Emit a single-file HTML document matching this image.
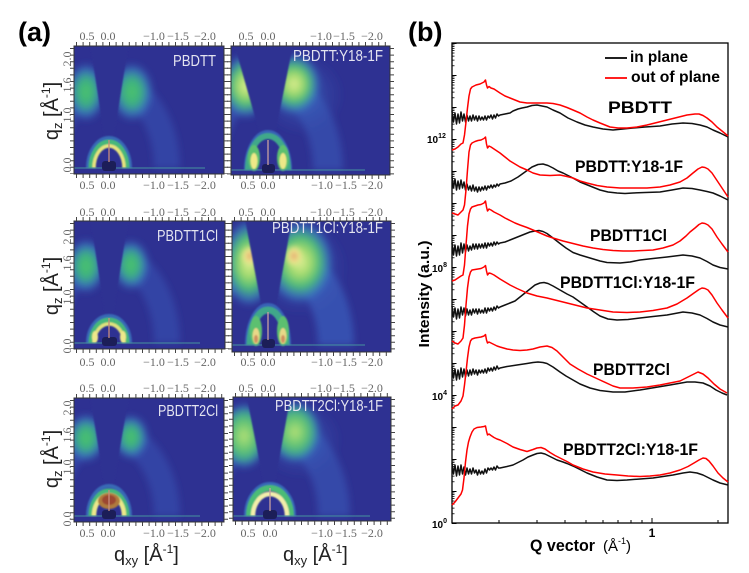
<!DOCTYPE html>
<html><head><meta charset="utf-8"><style>
html,body{margin:0;padding:0;background:#fff;}
svg{display:block;}
</style></head><body>
<svg width="749" height="573" viewBox="0 0 749 573" xmlns="http://www.w3.org/2000/svg">
<defs>
<filter id="f4" x="-50%" y="-50%" width="200%" height="200%"><feGaussianBlur stdDeviation="3.5"/></filter>
<filter id="f2" x="-50%" y="-50%" width="200%" height="200%"><feGaussianBlur stdDeviation="2"/></filter>
<filter id="f1" x="-50%" y="-50%" width="200%" height="200%"><feGaussianBlur stdDeviation="0.9"/></filter>
<radialGradient id="gG"><stop offset="0" stop-color="#4cc46a"/><stop offset=".45" stop-color="#3cae84"/><stop offset=".75" stop-color="#3a80c2" stop-opacity=".75"/><stop offset="1" stop-color="#3a5cbc" stop-opacity="0"/></radialGradient>
<radialGradient id="gY"><stop offset="0" stop-color="#e0ee96"/><stop offset=".3" stop-color="#a6dc6e"/><stop offset=".6" stop-color="#48b87a"/><stop offset=".85" stop-color="#3a7cc2" stop-opacity=".7"/><stop offset="1" stop-color="#3a5cbc" stop-opacity="0"/></radialGradient>
<radialGradient id="gY2"><stop offset="0" stop-color="#b8e276"/><stop offset=".4" stop-color="#6cc872"/><stop offset=".7" stop-color="#3ea88c"/><stop offset=".9" stop-color="#3a78c4" stop-opacity=".6"/><stop offset="1" stop-color="#3a5cbc" stop-opacity="0"/></radialGradient>
<radialGradient id="gO"><stop offset="0" stop-color="#dea46c"/><stop offset=".5" stop-color="#f0e28c"/><stop offset="1" stop-color="#d8ec8c" stop-opacity="0"/></radialGradient>
<radialGradient id="gB"><stop offset="0" stop-color="#3c78c8" stop-opacity=".6"/><stop offset="1" stop-color="#3a5cbc" stop-opacity="0"/></radialGradient>
<clipPath id="cA"><rect x="74" y="46" width="150" height="128"/></clipPath>
<clipPath id="cB"><rect x="231" y="46" width="159" height="129"/></clipPath>
<clipPath id="cC"><rect x="74" y="221" width="151" height="128"/></clipPath>
<clipPath id="cD"><rect x="232" y="221" width="159" height="131"/></clipPath>
<clipPath id="cE"><rect x="74" y="398" width="150" height="124"/></clipPath>
<clipPath id="cF"><rect x="233" y="397" width="158" height="124"/></clipPath>
<pattern id="yt" x="452" y="43" width="6" height="32" patternUnits="userSpaceOnUse">
<rect x="0" y="0" width="4.5" height="1" fill="#000"/>
<rect x="0" y="1.5" width="2.5" height=".8" fill="#000"/>
<rect x="0" y="3.1" width="2.5" height=".8" fill="#000"/>
<rect x="0" y="4.95" width="2.5" height=".8" fill="#000"/>
<rect x="0" y="7.1" width="2.5" height=".8" fill="#000"/>
<rect x="0" y="9.63" width="2.5" height=".8" fill="#000"/>
<rect x="0" y="12.73" width="2.5" height=".8" fill="#000"/>
<rect x="0" y="16.73" width="2.5" height=".8" fill="#000"/>
<rect x="0" y="22.37" width="2.5" height=".8" fill="#000"/>
</pattern>
</defs>
<rect width="749" height="573" fill="#fff"/>

<!-- ================= PANEL (a) ================= -->
<text x="18" y="41" font-family="Liberation Sans, sans-serif" font-weight="bold" font-size="27" fill="#000">(a)</text>

<!-- Image A: PBDTT -->
<g clip-path="url(#cA)">
<rect x="74" y="46" width="150" height="128" fill="#2e3192"/>
<g filter="url(#f4)">
<path d="M51 168 A58 84 0 0 1 167 168" fill="none" stroke="#3a58b8" stroke-width="26" opacity=".5"/>
<ellipse cx="86" cy="92" rx="20" ry="30" fill="url(#gG)"/>
<ellipse cx="132" cy="92" rx="22" ry="30" fill="url(#gG)"/>
</g>
<polygon points="107,154 88,30 131,30 111,154" fill="#2e3192" filter="url(#f1)"/>
<g filter="url(#f1)">
<path d="M88 168 A21 30 0 0 1 130 168" fill="none" stroke="#3a80c4" stroke-width="4" opacity=".7"/>
<path d="M91 168 A18 26 0 0 1 127 168" fill="none" stroke="#46b87a" stroke-width="5"/>
<path d="M94 168 A15 22 0 0 1 124 168" fill="none" stroke="#e6e47e" stroke-width="3.5"/>
</g>
<line x1="74" y1="168" x2="205" y2="168" stroke="#4aa0a0" stroke-width="1.2" opacity=".7"/>
<rect x="102" y="161" width="14" height="10" rx="3" fill="#1c1e58"/>
<line x1="109" y1="140" x2="109" y2="162" stroke="#c88c7c" stroke-width="1.3"/>
</g>
<rect x="74" y="46" width="150" height="128" fill="none" stroke="#333" stroke-width="1"/>

<!-- Image B: PBDTT:Y18-1F -->
<g clip-path="url(#cB)">
<rect x="231" y="46" width="159" height="129" fill="#2e3192"/>
<g filter="url(#f4)">
<path d="M208 170 A60 88 0 0 1 328 170" fill="none" stroke="#3a5cbc" stroke-width="30" opacity=".55"/>
<ellipse cx="302" cy="95" rx="42" ry="40" fill="url(#gB)"/>
<ellipse cx="246" cy="86" rx="25" ry="33" fill="url(#gY)"/>
<ellipse cx="294" cy="84" rx="27" ry="31" fill="url(#gY)"/>
</g>
<polygon points="266.5,157 233,40 294,40 270.5,157" fill="#2e3192" filter="url(#f1)"/>
<g filter="url(#f1)">
<path d="M246 170 A22 38 0 0 1 290 170" fill="none" stroke="#3a78c4" stroke-width="4" opacity=".7"/>
<path d="M248 170 A20 34 0 0 1 288 170" fill="none" stroke="#3fa88a" stroke-width="6"/>
<ellipse cx="254" cy="158" rx="6" ry="13" fill="#5cc070"/>
<ellipse cx="283" cy="158" rx="6" ry="13" fill="#5cc070"/>
<ellipse cx="254" cy="161" rx="3.5" ry="8" fill="#eee888"/>
<ellipse cx="283" cy="161" rx="3.5" ry="8" fill="#eee888"/>
</g>
<line x1="231" y1="170" x2="365" y2="170" stroke="#4aa0a0" stroke-width="1.2" opacity=".7"/>
<rect x="262" y="164" width="13" height="9" rx="3" fill="#1c1e58"/>
<line x1="268" y1="140" x2="268" y2="165" stroke="#c8a0a0" stroke-width="1.3"/>
</g>
<rect x="231" y="46" width="159" height="129" fill="none" stroke="#333" stroke-width="1"/>

<!-- Image C: PBDTT1Cl -->
<g clip-path="url(#cC)">
<rect x="74" y="221" width="151" height="128" fill="#2e3192"/>
<g filter="url(#f4)">
<path d="M51 343 A58 86 0 0 1 167 343" fill="none" stroke="#3a58b8" stroke-width="26" opacity=".5"/>
<ellipse cx="86" cy="266" rx="20" ry="28" fill="url(#gG)"/>
<ellipse cx="131" cy="265" rx="19" ry="26" fill="url(#gG)"/>
</g>
<polygon points="107,327 89,210 130,210 111,327" fill="#2e3192" filter="url(#f1)"/>
<g filter="url(#f1)">
<path d="M88 343 A21 27 0 0 1 130 343" fill="none" stroke="#3a80c4" stroke-width="4" opacity=".7"/>
<path d="M91 343 A18 23 0 0 1 127 343" fill="none" stroke="#46b87a" stroke-width="5"/>
<path d="M94 343 A15 19 0 0 1 124 343" fill="none" stroke="#e0e27c" stroke-width="3.5"/>
<ellipse cx="95" cy="337" rx="3" ry="6" fill="#eee88a"/>
<ellipse cx="123" cy="337" rx="3" ry="6" fill="#eee88a"/>
</g>
<line x1="74" y1="343" x2="200" y2="343" stroke="#4aa0a0" stroke-width="1.2" opacity=".7"/>
<rect x="102" y="337" width="15" height="9" rx="3" fill="#1c1e58"/>
<line x1="109" y1="318" x2="109" y2="338" stroke="#c88c7c" stroke-width="1.3"/>
</g>
<rect x="74" y="221" width="151" height="128" fill="none" stroke="#333" stroke-width="1"/>

<!-- Image D: PBDTT1Cl:Y18-1F -->
<g clip-path="url(#cD)">
<rect x="232" y="221" width="159" height="131" fill="#2e3192"/>
<g filter="url(#f4)">
<path d="M200 345 A68 92 0 0 1 336 345" fill="none" stroke="#3c62c0" stroke-width="36" opacity=".65"/>
<ellipse cx="300" cy="268" rx="48" ry="48" fill="url(#gB)"/>
<ellipse cx="249" cy="263" rx="27" ry="44" fill="url(#gY)"/>
<ellipse cx="300" cy="262" rx="34" ry="42" fill="url(#gY)"/>
</g>
<g filter="url(#f2)">
<ellipse cx="250" cy="256" rx="10" ry="11" fill="url(#gO)"/>
<ellipse cx="294" cy="256" rx="10" ry="12" fill="url(#gO)"/>
</g>
<polygon points="267.5,338 244,214 293,214 270.5,338" fill="#2e3192" filter="url(#f1)"/>
<g filter="url(#f1)">
<path d="M247 345 A21 40 0 0 1 289 345" fill="none" stroke="#3a78c4" stroke-width="4" opacity=".7"/>
<path d="M250 345 A18 35 0 0 1 286 345" fill="none" stroke="#3fa88a" stroke-width="7"/>
<ellipse cx="256" cy="331" rx="6" ry="15" fill="#5cc070"/>
<ellipse cx="283" cy="331" rx="6" ry="15" fill="#5cc070"/>
<ellipse cx="256" cy="336" rx="3.5" ry="8" fill="#e8d888"/>
<ellipse cx="283" cy="336" rx="3.5" ry="8" fill="#e8d888"/>
<ellipse cx="256" cy="339" rx="2" ry="4" fill="#d09060"/>
<ellipse cx="283" cy="339" rx="2" ry="4" fill="#d09060"/>
</g>
<line x1="232" y1="345" x2="365" y2="345" stroke="#4aa0a0" stroke-width="1.2" opacity=".7"/>
<rect x="262" y="339" width="13" height="9" rx="3" fill="#1c1e58"/>
<line x1="268" y1="312" x2="268" y2="340" stroke="#c8a0a0" stroke-width="1.3"/>
</g>
<rect x="232" y="221" width="159" height="131" fill="none" stroke="#333" stroke-width="1"/>

<!-- Image E: PBDTT2Cl -->
<g clip-path="url(#cE)">
<rect x="74" y="398" width="150" height="124" fill="#2e3192"/>
<g filter="url(#f4)">
<path d="M51 516 A58 82 0 0 1 167 516" fill="none" stroke="#3a58b8" stroke-width="26" opacity=".5"/>
<ellipse cx="86" cy="438" rx="20" ry="25" fill="url(#gG)"/>
<ellipse cx="131" cy="437" rx="18" ry="23" fill="url(#gG)"/>
</g>
<polygon points="107,500 89,390 130,390 111,500" fill="#2e3192" filter="url(#f1)"/>
<g filter="url(#f1)">
<path d="M88 516 A21 30 0 0 1 130 516" fill="none" stroke="#3a80c4" stroke-width="4" opacity=".7"/>
<path d="M91 516 A18 25 0 0 1 127 516" fill="none" stroke="#46b87a" stroke-width="5"/>
<path d="M94 516 A15 21 0 0 1 124 516" fill="none" stroke="#ece88a" stroke-width="4.5"/>
<ellipse cx="109" cy="501" rx="11" ry="8" fill="#b07a3c"/>
<ellipse cx="109" cy="500" rx="7" ry="5" fill="#9c4632"/>
</g>
<line x1="74" y1="516" x2="200" y2="516" stroke="#4aa0a0" stroke-width="1.2" opacity=".7"/>
<rect x="102" y="510" width="14" height="9" rx="3" fill="#1c1e58"/>
<line x1="109" y1="490" x2="109" y2="511" stroke="#c88c7c" stroke-width="1.3"/>
</g>
<rect x="74" y="398" width="150" height="124" fill="none" stroke="#333" stroke-width="1"/>

<!-- Image F: PBDTT2Cl:Y18-1F -->
<g clip-path="url(#cF)">
<rect x="233" y="397" width="158" height="124" fill="#2e3192"/>
<g filter="url(#f4)">
<path d="M206 516 A64 90 0 0 1 334 516" fill="none" stroke="#3a5cbc" stroke-width="32" opacity=".55"/>
<ellipse cx="300" cy="440" rx="42" ry="38" fill="url(#gB)"/>
<ellipse cx="244" cy="436" rx="24" ry="33" fill="url(#gY2)"/>
<ellipse cx="295" cy="432" rx="26" ry="31" fill="url(#gY2)"/>
</g>
<polygon points="267.5,502 245,388 292,388 271.5,502" fill="#2e3192" filter="url(#f1)"/>
<g filter="url(#f1)">
<path d="M246 516 A24 32 0 0 1 294 516" fill="none" stroke="#3a80c6" stroke-width="4" opacity=".7"/>
<path d="M249 516 A21 28 0 0 1 291 516" fill="none" stroke="#4cbc76" stroke-width="6"/>
<path d="M253 516 A17 22 0 0 1 287 516" fill="none" stroke="#f2eeaa" stroke-width="4.5"/>
</g>
<line x1="233" y1="516" x2="370" y2="516" stroke="#4aa0a0" stroke-width="1.2" opacity=".7"/>
<rect x="263" y="510" width="14" height="9" rx="3" fill="#1c1e58"/>
<line x1="270" y1="488" x2="270" y2="511" stroke="#c8a0a0" stroke-width="1.3"/>
</g>
<rect x="233" y="397" width="158" height="124" fill="none" stroke="#333" stroke-width="1"/>

<!-- image frame ticks -->
<g stroke="#444" stroke-width="4" stroke-dasharray="1 5.6" fill="none">
<line x1="76" y1="176" x2="224" y2="176"/><line x1="76" y1="44" x2="224" y2="44"/>
<line x1="72" y1="48" x2="72" y2="174"/><line x1="226" y1="48" x2="226" y2="174"/>
<line x1="233" y1="177" x2="390" y2="177"/><line x1="233" y1="44" x2="390" y2="44"/>
<line x1="229" y1="48" x2="229" y2="175"/><line x1="392" y1="48" x2="392" y2="175"/>
<line x1="76" y1="351" x2="225" y2="351"/><line x1="76" y1="219" x2="225" y2="219"/>
<line x1="72" y1="223" x2="72" y2="349"/><line x1="227" y1="223" x2="227" y2="349"/>
<line x1="234" y1="354" x2="391" y2="354"/><line x1="234" y1="219" x2="391" y2="219"/>
<line x1="230" y1="223" x2="230" y2="352"/><line x1="393" y1="223" x2="393" y2="352"/>
<line x1="76" y1="524" x2="224" y2="524"/><line x1="76" y1="396" x2="224" y2="396"/>
<line x1="72" y1="400" x2="72" y2="522"/><line x1="226" y1="400" x2="226" y2="522"/>
<line x1="235" y1="523" x2="391" y2="523"/><line x1="235" y1="395" x2="391" y2="395"/>
<line x1="231" y1="399" x2="231" y2="521"/><line x1="393" y1="399" x2="393" y2="521"/>
</g>

<!-- image titles -->
<g font-family="Liberation Sans, sans-serif" font-size="16" fill="#e4e4f0">
<text x="173" y="66" textLength="43" lengthAdjust="spacingAndGlyphs">PBDTT</text>
<text x="293" y="61" textLength="90" lengthAdjust="spacingAndGlyphs">PBDTT:Y18-1F</text>
<text x="157" y="241" textLength="61" lengthAdjust="spacingAndGlyphs">PBDTT1Cl</text>
<text x="272" y="233" textLength="111" lengthAdjust="spacingAndGlyphs">PBDTT1Cl:Y18-1F</text>
<text x="158" y="416" textLength="60" lengthAdjust="spacingAndGlyphs">PBDTT2Cl</text>
<text x="275" y="411" textLength="108" lengthAdjust="spacingAndGlyphs">PBDTT2Cl:Y18-1F</text>
</g>

<!-- qxy tick labels -->
<g font-family="Liberation Serif, serif" font-size="12" fill="#666" text-anchor="middle">
<g>
<text x="87" y="40">0.5</text><text x="108" y="40">0.0</text><text x="154" y="40">−1.0</text><text x="178" y="40">−1.5</text><text x="205" y="40">−2.0</text>
<text x="246" y="40">0.5</text><text x="268" y="40">0.0</text><text x="321" y="40">−1.0</text><text x="344" y="40">−1.5</text><text x="372" y="40">−2.0</text>
<text x="87" y="189">0.5</text><text x="108" y="189">0.0</text><text x="154" y="189">−1.0</text><text x="178" y="189">−1.5</text><text x="205" y="189">−2.0</text>
<text x="248" y="189">0.5</text><text x="268" y="189">0.0</text><text x="322" y="189">−1.0</text><text x="346" y="189">−1.5</text><text x="372" y="189">−2.0</text>
</g>
<g>
<text x="87" y="216">0.5</text><text x="108" y="216">0.0</text><text x="154" y="216">−1.0</text><text x="178" y="216">−1.5</text><text x="205" y="216">−2.0</text>
<text x="246" y="216">0.5</text><text x="268" y="216">0.0</text><text x="321" y="216">−1.0</text><text x="344" y="216">−1.5</text><text x="372" y="216">−2.0</text>
<text x="87" y="366">0.5</text><text x="108" y="366">0.0</text><text x="154" y="366">−1.0</text><text x="178" y="366">−1.5</text><text x="205" y="366">−2.0</text>
<text x="248" y="366">0.5</text><text x="268" y="366">0.0</text><text x="322" y="366">−1.0</text><text x="346" y="366">−1.5</text><text x="372" y="366">−2.0</text>
</g>
<g>
<text x="87" y="392">0.5</text><text x="108" y="392">0.0</text><text x="154" y="392">−1.0</text><text x="178" y="392">−1.5</text><text x="205" y="392">−2.0</text>
<text x="246" y="392">0.5</text><text x="268" y="392">0.0</text><text x="321" y="392">−1.0</text><text x="344" y="392">−1.5</text><text x="372" y="392">−2.0</text>
<text x="87" y="537">0.5</text><text x="108" y="537">0.0</text><text x="154" y="537">−1.0</text><text x="178" y="537">−1.5</text><text x="205" y="537">−2.0</text>
<text x="248" y="537">0.5</text><text x="270" y="537">0.0</text><text x="322" y="537">−1.0</text><text x="346" y="537">−1.5</text><text x="372" y="537">−2.0</text>
</g>
</g>

<!-- qz tick labels (rotated) -->
<g font-family="Liberation Serif, serif" font-size="12" fill="#666" text-anchor="middle">
<text transform="translate(71,59) rotate(-90)">2.0</text>
<text transform="translate(71,85) rotate(-90)">1.6</text>
<text transform="translate(71,115) rotate(-90)">1.0</text>
<text transform="translate(71,165) rotate(-90)">0.0</text>
<text transform="translate(71,237) rotate(-90)">2.0</text>
<text transform="translate(71,263) rotate(-90)">1.6</text>
<text transform="translate(71,297) rotate(-90)">1.0</text>
<text transform="translate(71,346) rotate(-90)">0.0</text>
<text transform="translate(71,408) rotate(-90)">2.0</text>
<text transform="translate(71,435) rotate(-90)">1.6</text>
<text transform="translate(71,467) rotate(-90)">1.0</text>
<text transform="translate(71,519) rotate(-90)">0.0</text>
</g>

<!-- qz axis labels -->
<g font-family="Liberation Sans, sans-serif" font-size="20" fill="#222" text-anchor="middle">
<text transform="translate(58,111) rotate(-90)">q<tspan font-size="13" dy="4">z</tspan><tspan dy="-4"> [Å</tspan><tspan font-size="12" dy="-8">-1</tspan><tspan dy="8">]</tspan></text>
<text transform="translate(58,286) rotate(-90)">q<tspan font-size="13" dy="4">z</tspan><tspan dy="-4"> [Å</tspan><tspan font-size="12" dy="-8">-1</tspan><tspan dy="8">]</tspan></text>
<text transform="translate(58,459) rotate(-90)">q<tspan font-size="13" dy="4">z</tspan><tspan dy="-4"> [Å</tspan><tspan font-size="12" dy="-8">-1</tspan><tspan dy="8">]</tspan></text>
</g>
<!-- qxy axis labels -->
<g font-family="Liberation Sans, sans-serif" font-size="20" fill="#222">
<text x="114" y="561">q<tspan font-size="13" dy="4">xy</tspan><tspan dy="-4"> [Å</tspan><tspan font-size="12" dy="-8">-1</tspan><tspan dy="8">]</tspan></text>
<text x="283" y="561">q<tspan font-size="13" dy="4">xy</tspan><tspan dy="-4"> [Å</tspan><tspan font-size="12" dy="-8">-1</tspan><tspan dy="8">]</tspan></text>
</g>

<!-- ================= PANEL (b) ================= -->
<text x="408" y="41" font-family="Liberation Sans, sans-serif" font-weight="bold" font-size="27" fill="#000">(b)</text>

<rect x="452" y="43" width="276" height="480" fill="none" stroke="#000" stroke-width="1.3"/>
<rect x="452" y="43" width="6" height="481" fill="url(#yt)"/>
<g stroke="#000" stroke-width="1">
<line x1="499" y1="523" x2="499" y2="520"/>
<line x1="537" y1="523" x2="537" y2="520"/>
<line x1="565" y1="523" x2="565" y2="520"/>
<line x1="586" y1="523" x2="586" y2="520"/>
<line x1="603" y1="523" x2="603" y2="520"/>
<line x1="618" y1="523" x2="618" y2="520"/>
<line x1="631" y1="523" x2="631" y2="520"/>
<line x1="642" y1="523" x2="642" y2="520"/>
<line x1="652" y1="523" x2="652" y2="518"/>
<line x1="718" y1="523" x2="718" y2="520"/>
</g>

<g font-family="Liberation Sans, sans-serif" font-weight="bold" fill="#000">
<text x="427" y="143" font-size="10">10<tspan font-size="7" dy="-5">12</tspan></text>
<text x="432" y="272" font-size="10">10<tspan font-size="7" dy="-5">8</tspan></text>
<text x="432" y="400" font-size="10">10<tspan font-size="7" dy="-5">4</tspan></text>
<text x="432" y="528" font-size="10">10<tspan font-size="7" dy="-5">0</tspan></text>
<text x="652" y="537" font-size="12" text-anchor="middle">1</text>
<text transform="translate(429,294) rotate(-90)" font-size="15" text-anchor="middle" textLength="107" lengthAdjust="spacingAndGlyphs">Intensity (a.u.)</text>
<text x="530" y="551" font-size="17" textLength="65" lengthAdjust="spacingAndGlyphs">Q vector</text>
<text x="603" y="551" font-size="15" font-weight="normal">(Å<tspan font-size="9" dy="-7">-1</tspan><tspan dy="7">)</tspan></text>
</g>

<!-- legend -->
<line x1="605" y1="58" x2="627" y2="58" stroke="#000" stroke-width="1.8"/>
<line x1="605" y1="78" x2="627" y2="78" stroke="#f00" stroke-width="1.8"/>
<g font-family="Liberation Sans, sans-serif" font-weight="bold" font-size="16" fill="#000">
<text x="630" y="62" textLength="58" lengthAdjust="spacingAndGlyphs">in plane</text>
<text x="631" y="82" textLength="89" lengthAdjust="spacingAndGlyphs">out of plane</text>
</g>

<!-- sample labels -->
<g font-family="Liberation Sans, sans-serif" font-weight="bold" font-size="17" fill="#000">
<text x="608" y="113" textLength="64" lengthAdjust="spacingAndGlyphs">PBDTT</text>
<text x="575" y="172" textLength="108" lengthAdjust="spacingAndGlyphs">PBDTT:Y18-1F</text>
<text x="590" y="241" textLength="77" lengthAdjust="spacingAndGlyphs">PBDTT1Cl</text>
<text x="560" y="288" textLength="135" lengthAdjust="spacingAndGlyphs">PBDTT1Cl:Y18-1F</text>
<text x="593" y="375" textLength="77" lengthAdjust="spacingAndGlyphs">PBDTT2Cl</text>
<text x="563" y="455" textLength="135" lengthAdjust="spacingAndGlyphs">PBDTT2Cl:Y18-1F</text>
</g>

<!-- curves -->
<g fill="none" stroke-width="1.5" stroke-linejoin="round">
<polyline stroke="#111" points="452,111 453.5,122 455,113 456.5,124 458,114 459.5,123 461,112 462.5,121 464,114 465.5,122 467,115 468.5,121 470,116 471.5,121 473,115 474.5,120 476,116 477.5,121 479,116 480.5,120 482,117 483.5,120 485,116 486.5,120 488,116 489.5,118 491,115 492.5,119 494,115 495.5,118 497,114 498.5,116 500,115 505,114 510,113 513,111 518,109 522,108 527,107 532,105.5 537,105 542,106 547,107 553,110 560,113 568,118 577,122 585,125 593,127 603,129 613,130 623,129 633,128 645,127 660,126 672,124 683,123 692,123.5 700,125 707,127 713,130 720,133 728,137"/>
<polyline stroke="#f00" points="452,150 455,149 458,147 461,144 463,143 464.5,135 466,122 467.5,108 469,96 470.5,89 472,87 474,86 476,85 478,84.5 480,84 482,83 484,82 485.5,80 486.5,85 487.5,88 489,86.5 491,88 494,89 497,91 500,93 505,96 510,98 515,100 520,102 527,103 533,103 540,103 547,103 553,103.5 560,105 567,107.5 573,110 580,113 587,117 593,120 600,123 610,127 618,128 627,128 637,127 647,125 657,122.5 667,120 677,117.5 687,115 695,114 699,114 703,115.5 707,118 712,122 717,127 722,131 728,136"/>
<polyline stroke="#111" points="452,177 453.5,188 455,179 456.5,190 458,181 459.5,189 461,180 462.5,188 464,182 465.5,190 467,184 468.5,190 470,186 471.5,191 473,185 474.5,191 476,187 477.5,192 479,187 480.5,191 482,187 483.5,190 485,186 486.5,190 488,186 489.5,188 491,185 492.5,188 494,185 495.5,187 497,184 498.5,186 500,184 505,183 511,181 518,177 525,172 532,167 538,164.5 543,164 548,165.5 553,168 558,171 563,173 571,177 580,182 590,186 600,190 608,192 617,193 625,193.5 633,193 645,192.5 660,192 672,190 683,188 692,188.5 700,190 707,191.5 713,193 720,196 728,200"/>
<polyline stroke="#f00" points="452,213 455,214 458,215 461,212 463,210 464.5,205 466,190 467.5,170 469,152 470.5,145 472,143 475,141.5 478,140.5 481,140 484,138.5 485.5,137 486.5,144 487.5,148 489,146 491,147 494,149 497,151 500,153 505,157 510,161 515,164 520,167 527,170 533,173 540,175 550,175.5 560,175 567,176.5 573,178 580,181 587,183 597,185.5 607,187 620,188 633,188 647,188 660,187 670,185 680,182 687,178 693,173 698,169 702,167 705,167.5 708,169 712,173 716,179 720,185 724,191 728,197"/>
<polyline stroke="#111" points="452,243 453.5,255 455,245 456.5,256 458,246 459.5,255 461,243 462.5,253 464,244 465.5,252 467,245 468.5,251 470,246 471.5,250 473,244 474.5,249 476,244 477.5,249 479,244 480.5,248 482,244 483.5,248 485,243 486.5,248 488,243 489.5,246 491,243 492.5,246 494,242 495.5,245 497,242 498.5,244 500,243 505,242 510,240 515,238 520,236 525,234 530,232 535,231 539,230.5 543,231.5 547,233.5 553,238 560,243.5 566,248 573,252.5 580,255 590,258 600,261 607,262.5 620,263 630,262 640,260 653,258.5 667,257 675,256 683,255 692,256 700,258 707,261.5 713,265 720,267.5 728,269"/>
<polyline stroke="#f00" points="452,281 455,280 458,278 461,276 463,275 464.5,265 466,245 467.5,226 469,214 470.5,209 472,207 475,206 478,205 481,204.5 484,203 485.5,201 486.5,207 487.5,211 489,209 491,210 494,212 497,213.5 500,215 505,218 510,220.5 515,223 520,225 527,227.5 533,230 540,233 547,236 553,238 563,241 573,243.5 583,246 593,248 603,249.5 613,250.5 623,251 633,251 643,250.5 653,250 663,248 673,245 680,241 686,236 690,232 695,228 699,224.5 702,223 705,223.5 708,225 712,229 717,237 722,244 728,252"/>
<polyline stroke="#111" points="452,306 453.5,317 455,308 456.5,319 458,309 459.5,318 461,307 462.5,315 464,308 465.5,316 467,309 468.5,315 470,310 471.5,315 473,309 474.5,313 476,309 477.5,314 479,309 480.5,313 482,310 483.5,313 485,308 486.5,313 488,308 489.5,311 491,308 492.5,311 494,307 495.5,310 497,306 498.5,308 500,307 505,305 510,303 515,301 520,297 525,293 530,289 535,285 540,283 544,282.5 548,283.5 553,286 560,290 567,294 573,297 580,302 587,307 594,312 600,316 608,319 617,320 628,319.5 640,318 653,316.5 667,315 675,313.5 683,312 692,313 700,315 707,318.5 713,322 720,325 728,327"/>
<polyline stroke="#f00" points="452,341 455,343 458,344 461,341 463,338 464.5,325 466,305 467.5,288 469,277 470.5,272 472,270 475,269.5 478,269 481,268.5 484,267 485.5,265.5 486.5,271 487.5,275 489,273 491,273.5 494,275 497,277 500,279 505,282 510,285 517,288.5 527,293 537,296 547,298 557,300.5 567,303 577,305.5 587,308 600,310 613,312 627,312.5 640,312 653,310.5 667,308 677,304 687,298 694,293 699,289.5 702,288 705,288.5 708,290 712,295 717,303 722,310 728,318"/>
<polyline stroke="#111" points="452,367 453.5,378 455,369 456.5,380 458,370 459.5,379 461,368 462.5,377 464,369 465.5,377 467,370 468.5,376 470,370 471.5,375 473,369 474.5,374 476,370 477.5,375 479,370 480.5,373 482,370 483.5,373 485,369 486.5,373 488,368 489.5,371 491,368 492.5,371 494,367 495.5,370 497,366 498.5,369 500,368 507,366.5 517,365 527,363.5 533,362.5 538,362 543,362.5 547,363.5 553,367 560,372 566,376 573,380 580,384 590,388 600,390.5 613,392 625,392 640,390 655,387.5 670,385 687,382 695,382 703,383 710,386 716,390 722,393 727,395"/>
<polyline stroke="#f00" points="452,409 455,406 458,405 461,401 463,396 464.5,385 466,372 467.5,358 469,347 470.5,341 472,339 475,338 478,337.5 481,337 484,336 485.5,334.5 486.5,340 487.5,343 489,342 491,343 494,344.5 497,346 500,347 507,349 513,350 520,350.5 527,350 533,349 540,347 547,346 552,347.5 557,351 563,357 570,364 578,369 587,374 600,380 613,386 620,388 633,388 647,387 660,385 670,383 680,381 688,377 694,374 698,372 703,374 708,378 714,384 720,389 727,393"/>
<polyline stroke="#111" points="452,463 453.5,474 455,465 456.5,476 458,466 459.5,475 461,465 462.5,474 464,467 465.5,475 467,468 468.5,474 470,469 471.5,474 473,468 474.5,473 476,470 477.5,475 479,470 480.5,474 482,471 483.5,474 485,469 486.5,473 488,468 489.5,470 491,468 492.5,470 494,467 495.5,470 497,466 498.5,468 500,468 507,466.5 513,465 517,463 523,460 528,457 533,455 537,453.5 541,453 545,454 550,456.5 557,460 563,462 567,463.5 575,467 587,473 597,477 607,480 617,480.5 627,480 640,479 653,478 663,476.5 673,475 683,473 690,472 697,473 703,475 708,477.5 713,480 720,483 728,485"/>
<polyline stroke="#f00" points="452,505 455,502 458,498 461,494 462.5,490 464,478 465.5,462 467,450 468.5,442 470,437 472,432 474,429 477,427.5 481,427 484,426.5 485.5,426 486.5,431 487.5,435 489,434 491,435.5 494,437.5 497,439 500,440 507,443.5 513,447 520,449.5 527,451.5 533,449.5 537,448 541,447.5 545,449 550,452.5 555,455.5 560,458 567,461.5 573,465 583,469 593,472 605,474 617,475 628,476 640,476.5 650,476 660,475 670,473 680,470 688,466.5 694,463 699,460 703,458 706,458.5 709,461 713,466 718,473 723,478 728,482"/>
</g>
</svg>
</body></html>
